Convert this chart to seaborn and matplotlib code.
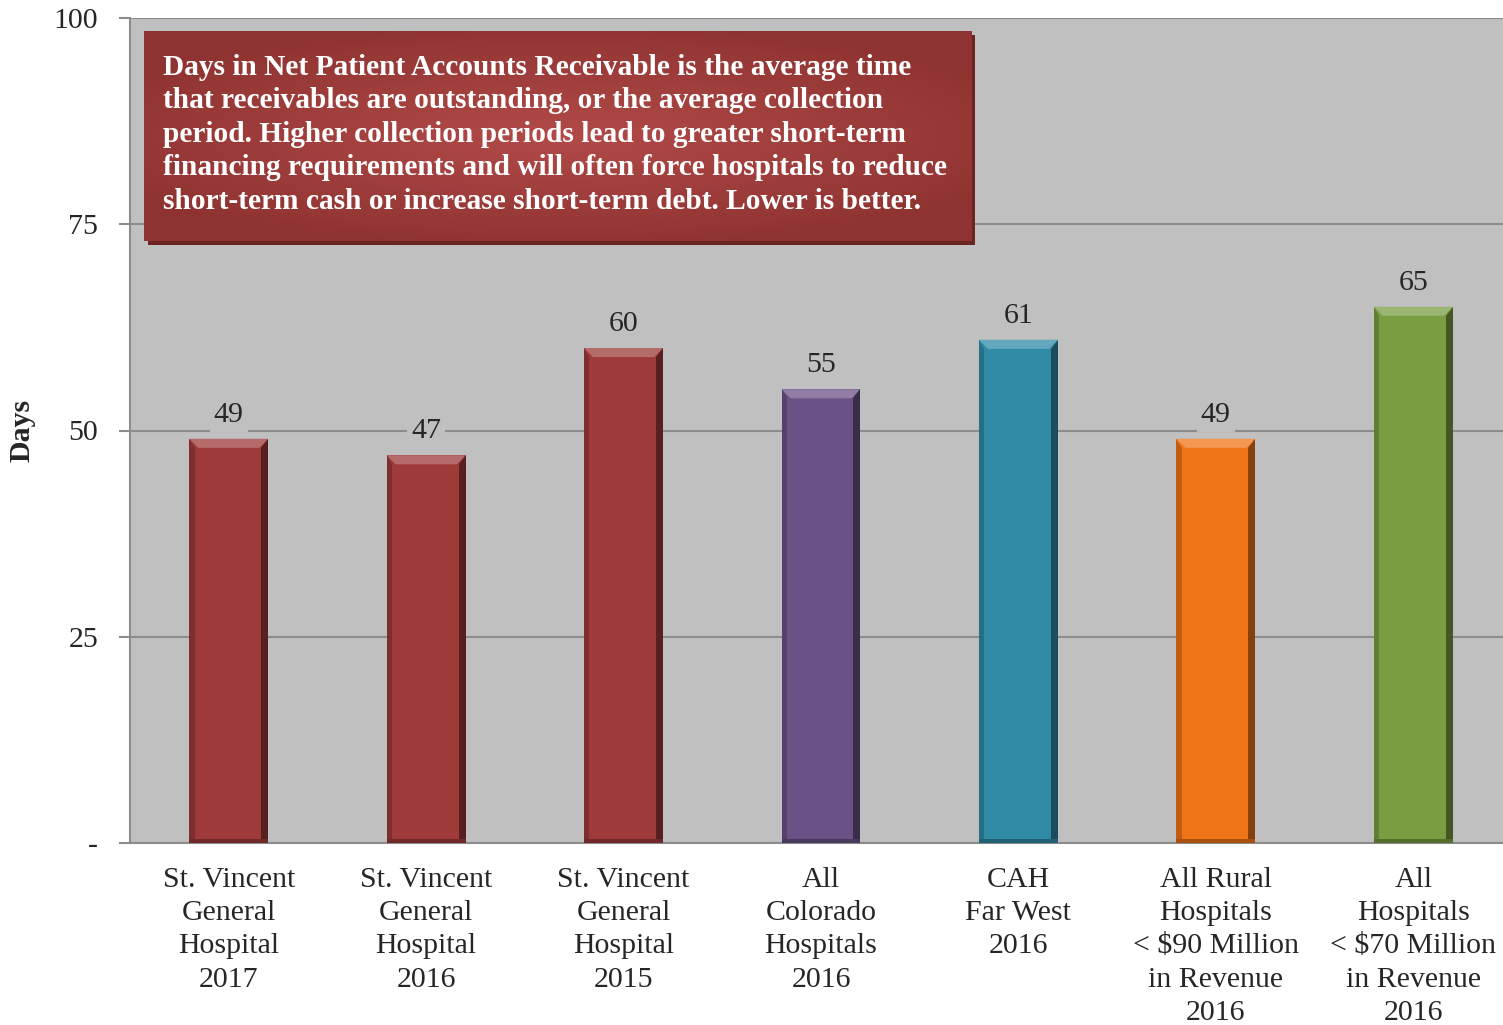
import numpy as np
import pandas as pd
import matplotlib.pyplot as plt
import matplotlib.colors as mcolors
import seaborn as sns
from matplotlib.patches import Rectangle, Polygon

# ==============================
# Data
# ==============================
categories = [
    "St. Vincent\nGeneral\nHospital\n2017",
    "St. Vincent\nGeneral\nHospital\n2016",
    "St. Vincent\nGeneral\nHospital\n2015",
    "All\nColorado\nHospitals\n2016",
    "CAH\nFar West\n2016",
    "All Rural\nHospitals\n< $90 Million\nin Revenue\n2016",
    "All\nHospitals\n< $70 Million\nin Revenue\n2016",
]
days = [49, 47, 60, 55, 61, 49, 65]
bar_colors = ["#9E3A39", "#9E3A39", "#9E3A39", "#6A5186", "#2F8BA5", "#F07418", "#7A9D42"]
yticks = [0, 25, 50, 75, 100]
ytick_labels = ["-", "25", "50", "75", "100"]
note = ("Days in Net Patient Accounts Receivable is the average time\n"
        "that receivables are outstanding, or the average collection\n"
        "period. Higher collection periods lead to greater short-term\n"
        "financing requirements and will often force hospitals to reduce\n"
        "short-term cash or increase short-term debt. Lower is better.")

df = pd.DataFrame({"Category": categories, "Days": days})


def shade(color, factor):
    rgb = np.array(mcolors.to_rgb(color))
    if factor >= 1:
        rgb = rgb + (1 - rgb) * (factor - 1)
    else:
        rgb = rgb * factor
    return tuple(np.clip(rgb, 0, 1))


# ==============================
# Plot
# ==============================
sns.set_style("white")
plt.rcParams["font.family"] = ["Liberation Serif", "DejaVu Serif"]
FS = 21.5

fig = plt.figure(figsize=(15.03, 10.25), dpi=100)
# plot area runs slightly past the right edge of the image, as in the original
ax = fig.add_axes([0.0865, 0.1776, 0.9195, 0.8048])
ax.set_facecolor("#C0C0C0")

sns.barplot(
    data=df,
    x="Category",
    y="Days",
    hue="Category",
    palette=bar_colors,
    saturation=1,
    legend=False,
    width=0.4,
    edgecolor="none",
    ax=ax,
)

ax.set_ylim(0, 100)
ax.set_xlim(-0.5, len(categories) - 0.5)

# bevel look on the bars
bw = 0.045   # bevel width in x units
bh = 1.1     # bevel height in y units
for bar, col in zip(ax.patches, bar_colors):
    x0, w, h = bar.get_x(), bar.get_width(), bar.get_height()
    x1 = x0 + w
    ax.add_patch(Polygon([(x0, h), (x1, h), (x1 - bw, h - bh), (x0 + bw, h - bh)],
                         closed=True, facecolor=shade(col, 1.25), edgecolor="none", zorder=3))
    ax.add_patch(Polygon([(x1, h), (x1, 0), (x1 - bw * 0.8, 0), (x1 - bw * 0.8, h - bh)],
                         closed=True, facecolor=shade(col, 0.55), edgecolor="none", zorder=3))
    ax.add_patch(Polygon([(x0, h), (x0, 0), (x0 + bw * 0.6, 0), (x0 + bw * 0.6, h - bh)],
                         closed=True, facecolor=shade(col, 0.8), edgecolor="none", zorder=3))
    ax.add_patch(Rectangle((x0, 0), w, 0.5, facecolor=shade(col, 0.7),
                           edgecolor="none", zorder=3))

ax.set_yticks(yticks)
ax.set_yticklabels(ytick_labels, fontsize=FS)
ax.yaxis.grid(True, color="#8C8C8C", linewidth=1.5)
ax.set_axisbelow(True)

# x ticks between categories
ax.set_xticks(range(len(categories)))
ax.set_xticklabels(categories, fontsize=FS, linespacing=1.37, va="top")
ax.tick_params(axis="x", length=0, pad=17)
ax.set_xticks([i - 0.5 for i in range(len(categories) + 1)], minor=True)
ax.tick_params(axis="x", which="minor", length=8, color="#8C8C8C", width=1.5)
ax.tick_params(axis="y", length=8, color="#8C8C8C", width=1.5, pad=15, direction="out")
ax.tick_params(axis="y", which="major", left=True)

for side in ["top", "right"]:
    ax.spines[side].set_visible(False)
for side in ["left", "bottom"]:
    ax.spines[side].set_color("#8C8C8C")
    ax.spines[side].set_linewidth(1.5)

ax.set_xlabel("")
ax.set_ylabel("")
fig.text(22 / 1503, 1 - 430 / 1025, "Days", rotation=90, ha="center", va="center",
         fontsize=FS, fontweight="bold")

# value labels
for i, v in enumerate(days):
    ax.text(i, v + 1.35, str(v), ha="center", va="bottom", fontsize=FS,
            bbox=dict(facecolor="#C0C0C0", edgecolor="none", pad=3))

# note box (with shadow and soft gradient)
ax_w = 0.9195
bx, by, bwid, bhei = 0.0102 * 0.9135 / ax_w, 0.7295, 0.6025 * 0.9135 / ax_w, 0.2545
ax.add_patch(Rectangle((bx + 0.003, by - 0.005), bwid, bhei, transform=ax.transAxes,
                       facecolor="#6B2422", edgecolor="none", zorder=4))
yy, xx = np.mgrid[-1:1:60j, -1:1:200j]
grad = 1 - np.clip(np.sqrt((xx * 0.8) ** 2 + (yy * 0.9) ** 2), 0, 1)
cmap = mcolors.LinearSegmentedColormap.from_list("boxgrad", ["#8E3331", "#B14A48"])
ax.imshow(grad, cmap=cmap, extent=(bx, bx + bwid, by, by + bhei), transform=ax.transAxes,
          aspect="auto", interpolation="bicubic", zorder=5)
ax.set_xlim(-0.5, len(categories) - 0.5)
ax.set_ylim(0, 100)
ax.text(bx + 0.0134, by + bhei - 0.027, note, transform=ax.transAxes, ha="left", va="top",
        fontsize=21.2, fontweight="bold", color="white", linespacing=1.31, zorder=6)

plt.savefig("out.png", dpi=100)
